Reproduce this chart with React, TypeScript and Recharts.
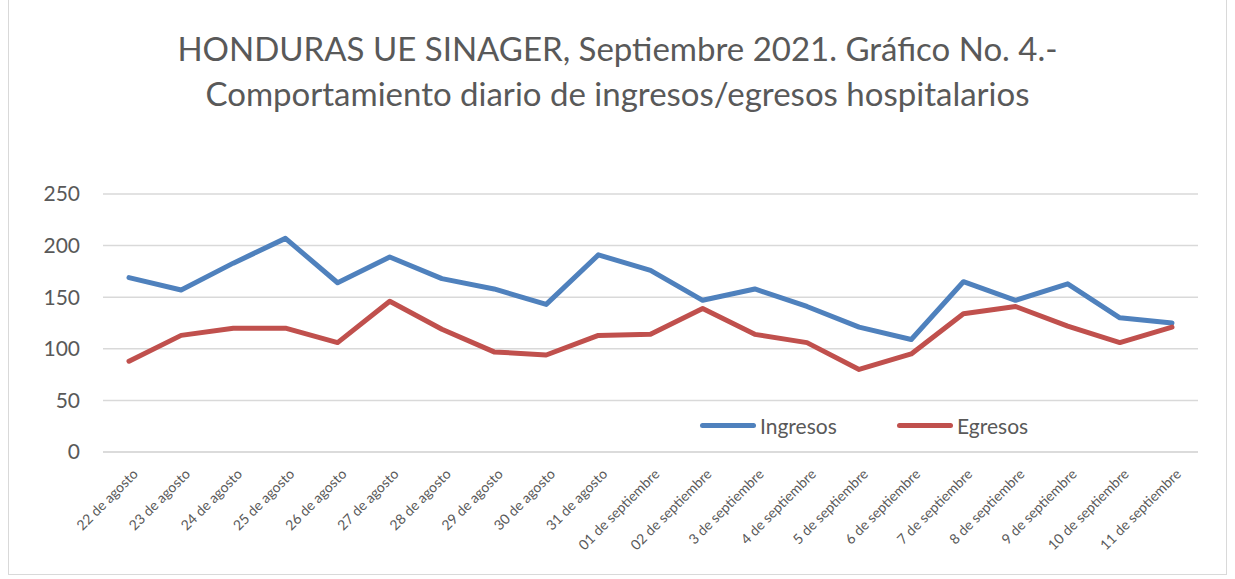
import React from 'react';
import { LineChart, Line, XAxis, YAxis, CartesianGrid, Legend } from 'recharts';

const fechas = [
  '22 de agosto', '23 de agosto', '24 de agosto', '25 de agosto', '26 de agosto',
  '27 de agosto', '28 de agosto', '29 de agosto', '30 de agosto', '31 de agosto',
  '01 de septiembre', '02 de septiembre', '3 de septiembre', '4 de septiembre',
  '5 de septiembre', '6 de septiembre', '7 de septiembre', '8 de septiembre',
  '9 de septiembre', '10 de septiembre', '11 de septiembre',
];
const ingresos = [169, 157, 183, 207, 164, 189, 168, 158, 143, 191, 176, 147, 158, 141, 121, 109, 165, 147, 163, 130, 125];
const egresos = [88, 113, 120, 120, 106, 146, 119, 97, 94, 113, 114, 139, 114, 106, 80, 95, 134, 141, 122, 106, 121];
const yTicks = [0, 50, 100, 150, 200, 250];

const data = fechas.map((fecha, i) => ({ fecha, Ingresos: ingresos[i], Egresos: egresos[i] }));

const FONT = 'Lato, "Open Sans", sans-serif';
const GRAY = '#595959';
const BLUE = '#4F81BD';
const RED = '#C0504D';

const FechaTick = (props: any) => {
  const { x, y, payload } = props;
  const ax = x + 2;
  const ay = y + 7;
  return (
    <text
      x={ax}
      y={ay}
      transform={`rotate(-45, ${ax}, ${ay})`}
      textAnchor="end"
      dominantBaseline="hanging"
      fontSize={14}
      fill={GRAY}
      fontFamily={FONT}
    >
      {payload.value}
    </text>
  );
};

const Muestra = ({ color }: { color: string }) => (
  <div style={{ width: 56, height: 5, borderRadius: 3, background: color, marginRight: 4 }} />
);

const LeyendaLineas = () => (
  <div style={{ display: 'flex', alignItems: 'center', fontFamily: FONT, fontSize: 21, color: GRAY }}>
    <Muestra color={BLUE} />
    <span style={{ width: 137 }}>Ingresos</span>
    <Muestra color={RED} />
    <span>Egresos</span>
  </div>
);

export default function App() {
  return (
    <div style={{ position: 'absolute', left: 0, top: 0, width: 1235, height: 579, background: '#fff' }}>
      <div
        style={{
          position: 'absolute', left: 8, top: -1, width: 1219, height: 576,
          border: '1px solid #d9d9d9', boxSizing: 'border-box',
        }}
      />
      <div
        style={{
          position: 'absolute', left: 0, top: 26, width: 1235, textAlign: 'center',
          fontFamily: FONT, fontSize: 33, lineHeight: '45px', color: GRAY,
        }}
      >
        HONDURAS UE SINAGER, Septiembre 2021. Gráfico No. 4.-
        <br />
        Comportamiento diario de ingresos/egresos hospitalarios
      </div>
      <LineChart
        width={1235}
        height={579}
        data={data}
        margin={{ top: 194, right: 37, left: 0, bottom: 17 }}
        style={{ position: 'absolute', left: 0, top: 0 }}
      >
        <CartesianGrid vertical={false} stroke="#d9d9d9" strokeWidth={1.5} />
        <XAxis
          dataKey="fecha"
          interval={0}
          height={110}
          padding={{ left: 26, right: 26 }}
          tick={<FechaTick />}
          tickLine={false}
          axisLine={{ stroke: '#d9d9d9', strokeWidth: 1.5 }}
        />
        <YAxis
          domain={[0, 250]}
          ticks={yTicks}
          width={103}
          tickSize={0}
          tickMargin={23}
          axisLine={false}
          tickLine={false}
          tick={{ fill: GRAY, fontSize: 21, fontFamily: FONT }}
        />
        <Legend
          layout="horizontal"
          verticalAlign="middle"
          content={<LeyendaLineas />}
          wrapperStyle={{ top: 413, left: 700, width: 'auto' }}
        />
        <Line
          type="linear"
          dataKey="Ingresos"
          stroke={BLUE}
          strokeWidth={5}
          strokeLinecap="round"
          strokeLinejoin="round"
          dot={false}
          isAnimationActive={false}
        />
        <Line
          type="linear"
          dataKey="Egresos"
          stroke={RED}
          strokeWidth={5}
          strokeLinecap="round"
          strokeLinejoin="round"
          dot={false}
          isAnimationActive={false}
        />
      </LineChart>
    </div>
  );
}
